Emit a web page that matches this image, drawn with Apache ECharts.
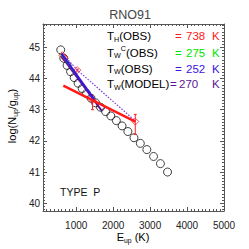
<!DOCTYPE html>
<html><head><meta charset="utf-8">
<script src="https://cdn.jsdelivr.net/npm/echarts@6/dist/echarts.min.js"></script>
<style>html,body{margin:0;padding:0;background:#fff}#c{width:249px;height:249px}</style>
</head><body><div id="c"></div>
<script>
// ---- data ----
const xTickLabels = [1000, 2000, 3000, 4000, 5000];
const yTickLabels = [40, 41, 42, 43, 44, 45];
const modelE = [580, 663, 752, 846, 945, 1050, 1161, 1277, 1400, 1525, 1657, 1795, 1937, 2086, 2240, 2398, 2563, 2735, 2911, 3093, 3279, 3471];
const modelLogN = [44.92, 44.65, 44.42, 44.22, 44.03, 43.85, 43.68, 43.52, 43.37, 43.22, 43.08, 42.94, 42.80, 42.65, 42.48, 42.30, 42.10, 41.92, 41.72, 41.50, 41.27, 41.00];
const obsE = [622, 690, 1028, 1440, 2598];
const obsLogN = [44.75, 44.65, 44.27, 43.30, 42.62];
const obsLow = [44.72, 44.62, 44.24, 43.00, 42.21];
const obsHigh = [44.78, 44.68, 44.30, 43.45, 42.85];
const hotFitE = [650, 2598];
const hotFitLogN = [43.77, 42.62];
const warmCorrE = [580, 1000];
const warmCorrLogN = [44.80, 44.14];
const warmObsE = [600, 1480];
const warmObsLogN = [44.80, 43.35];
const warmModelE = [600, 1700];
const warmModelLogN = [44.72, 42.95];
const dottedE = [622, 1050, 2598];
const dottedLogN = [44.80, 44.25, 42.64];
const legendNames = ['{a|T}{s|H}{a|(OBS)}', '{a|T}{s|W}{p|C}{a|(OBS)}', '{a|T}{s|W}{a|(OBS)}', '{a|T}{s|W}{a|(MODEL)}'];
const legendValues = ['738', '275', '252', '270'];
const legendColors = ['#ff1a1a', '#00e600', '#3a14e0', '#5a1690'];

const zip = (a, b) => a.map((v, i) => [v, b[i]]);
const xMinor = [], yMinor = [];
for (let v = 200; v < 5000; v += 100) if (v % 1000) xMinor.push(v);
for (let k = 398; k <= 457; k++) if (k % 10) yMinor.push(k / 10);

const XMIN = 100, XMAX = 5000, YMIN = 39.75, YMAX = 45.75;
const axisCol = '#555';
function xa(pos, major, lbl) {
  return {
    type: 'value', min: XMIN, max: XMAX, position: pos,
    axisLine: { show: major, onZero: false, lineStyle: { color: axisCol, width: 1 } },
    axisTick: { show: true, inside: true, length: major ? 4 : 2, customValues: major ? xTickLabels : xMinor, lineStyle: { color: axisCol } },
    axisLabel: { show: lbl, customValues: xTickLabels, formatter: v => String(v), fontSize: 10, color: '#222', margin: 9, fontFamily: 'Liberation Sans' },
    splitLine: { show: false }
  };
}
function ya(pos, major, lbl) {
  return {
    type: 'value', min: YMIN, max: YMAX, position: pos,
    axisLine: { show: major, onZero: false, lineStyle: { color: axisCol, width: 1 } },
    axisTick: { show: true, inside: true, length: major ? 4 : 2, customValues: major ? yTickLabels : yMinor, lineStyle: { color: axisCol } },
    axisLabel: { show: lbl, customValues: yTickLabels, formatter: v => String(v), fontSize: 10, color: '#222', margin: 3, fontFamily: 'Liberation Sans' },
    splitLine: { show: false }
  };
}

const richBase = (color, fs, fam) => ({
  a: { fontSize: fs, lineHeight: 14, color: color, fontFamily: fam },
  s: { fontSize: fs * 0.62, lineHeight: 5, verticalAlign: 'bottom', color: color, fontFamily: fam },
  p: { fontSize: fs * 0.62, lineHeight: 5, verticalAlign: 'top', color: color, fontFamily: fam }
});

const LF = 'Liberation Sans';
const graphics = [];
const legendY = [36, 52.5, 68.5, 84];
legendNames.forEach((n, i) => {
  graphics.push({ type: 'text', x: 107, y: legendY[i], style: { text: n, rich: richBase(legendColors[i], 11.5, LF), verticalAlign: 'middle', align: 'left' } });
  graphics.push({ type: 'text', x: i === 3 ? 170 : 175, y: legendY[i], style: { text: '=', fill: legendColors[i], fontSize: 11.5, fontFamily: LF, verticalAlign: 'middle', align: 'left' } });
  graphics.push({ type: 'text', x: i === 3 ? 179 : 186, y: legendY[i], style: { text: legendValues[i], fill: legendColors[i], fontSize: 11.5, fontFamily: LF, verticalAlign: 'middle', align: 'left' } });
  graphics.push({ type: 'text', x: 212, y: legendY[i], style: { text: 'K', fill: legendColors[i], fontSize: 11.5, fontFamily: LF, verticalAlign: 'middle', align: 'left' } });
});
graphics.push({ type: 'text', x: 60, y: 192, style: { text: 'TYPE  P', fill: '#111', fontSize: 10.5, fontFamily: LF, verticalAlign: 'middle', align: 'left' } });
graphics.push({ type: 'text', x: 130, y: 15, style: { text: 'RNO91', fill: '#444', fontSize: 12.5, fontFamily: LF, verticalAlign: 'middle', align: 'center' } });
graphics.push({ type: 'text', x: 133, y: 237, style: { text: '{a|E}{s|up}{a| (K)}', rich: richBase('#222', 11, LF), verticalAlign: 'middle', align: 'center' } });
graphics.push({ type: 'text', x: 12, y: 116, rotation: Math.PI / 2, style: { text: '{a|log(N}{s|up}{a|/g}{s|up}{a|)}', rich: richBase('#222', 11, LF), verticalAlign: 'middle', align: 'center' } });

const chart = echarts.init(document.getElementById('c'), null, { renderer: 'svg' });
const lineS = (xs, ys, color, w, type, z) => ({
  type: 'line', data: zip(xs, ys), symbol: 'none', silent: true, z: z,
  lineStyle: { color: color, width: w, type: type || 'solid' }, animation: false
});
chart.setOption({
  animation: false,
  backgroundColor: '#fff',
  grid: { left: 43, right: 25, top: 24, bottom: 38 },
  xAxis: [xa('bottom', true, true), xa('bottom', false, false), xa('top', true, false), xa('top', false, false)],
  yAxis: [ya('left', true, true), ya('left', false, false), ya('right', true, false), ya('right', false, false)],
  graphic: graphics,
  series: [
    { type: 'scatter', data: zip(modelE, modelLogN), symbol: 'circle', symbolSize: 8, z: 2,
      itemStyle: { color: 'rgba(0,0,0,0)', borderColor: '#111', borderWidth: 1 } },
    { type: 'custom', z: 3, data: obsE.map((e, i) => [e, obsLow[i], obsHigh[i]]),
      renderItem: (params, api) => {
        const p1 = api.coord([api.value(0), api.value(1)]);
        const p2 = api.coord([api.value(0), api.value(2)]);
        const st = { stroke: '#ff2020', lineWidth: 1 };
        return { type: 'group', children: [
          { type: 'line', shape: { x1: p1[0], y1: p1[1], x2: p2[0], y2: p2[1] }, style: st },
          { type: 'line', shape: { x1: p1[0] - 1.5, y1: p1[1], x2: p1[0] + 1.5, y2: p1[1] }, style: st },
          { type: 'line', shape: { x1: p2[0] - 1.5, y1: p2[1], x2: p2[0] + 1.5, y2: p2[1] }, style: st }
        ] };
      } },
    { type: 'scatter', data: zip(obsE, obsLogN), symbol: 'diamond', symbolSize: 7, z: 3,
      itemStyle: { color: 'rgba(0,0,0,0)', borderColor: '#ff2020', borderWidth: 1 } },
    lineS(dottedE, dottedLogN, '#7a3ae0', 1.2, [1.5, 1.5], 4),
    lineS(warmModelE, warmModelLogN, '#5a1690', 2, 'solid', 5),
    lineS(warmCorrE, warmCorrLogN, '#00e600', 1.5, 'solid', 6),
    lineS(warmObsE, warmObsLogN, '#3a14e0', 2, 'solid', 7),
    lineS(hotFitE, hotFitLogN, '#ff1a1a', 2.5, 'solid', 8)
  ]
});
</script></body></html>
